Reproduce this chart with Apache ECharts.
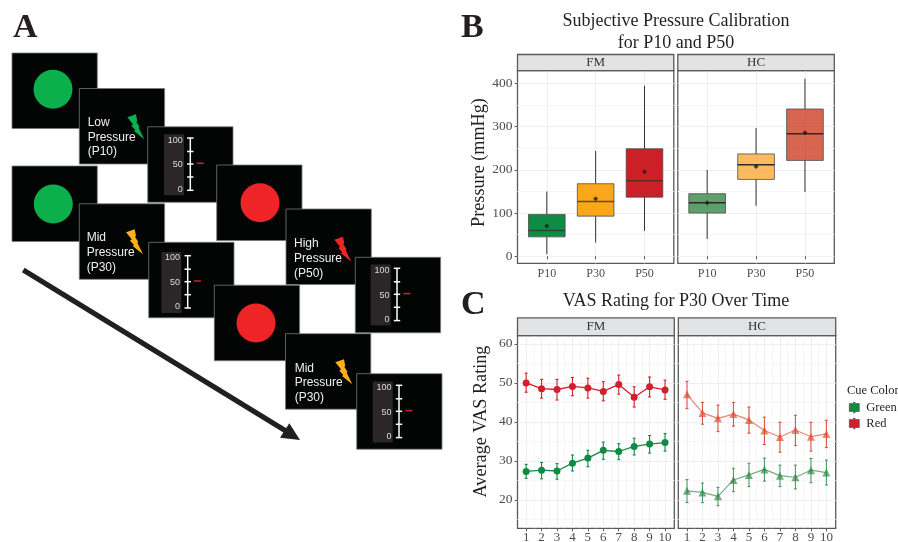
<!DOCTYPE html>
<html>
<head>
<meta charset="utf-8">
<style>html,body{margin:0;padding:0;background:#fff}#c{width:898px;height:542px}</style>
<script src="https://cdn.jsdelivr.net/npm/echarts@6/dist/echarts.min.js"></script>
</head>
<body>
<div id="c"></div>
<script>
// ---- Panel B data
const boxCategories = ['P10', 'P30', 'P50'];
const fmLow  = [5, 32, 59];
const fmQ1   = [45, 93, 137];
const fmMed  = [60, 127, 175];
const fmQ3   = [97, 168, 249];
const fmHigh = [150, 244, 395];
const fmMean = [70, 133, 196];
const hcLow  = [40, 117, 149];
const hcQ1   = [100, 178, 222];
const hcMed  = [124, 212, 284];
const hcQ3   = [145, 237, 341];
const hcHigh = [200, 297, 411];
const hcMean = [124, 208, 286];
const pressureTicks = [0, 100, 200, 300, 400];
const pressureMinor = [50, 150, 250, 350];
// ---- Panel C data
const trials = [1, 2, 3, 4, 5, 6, 7, 8, 9, 10];
const trialsMinor = [1.5, 2.5, 3.5, 4.5, 5.5, 6.5, 7.5, 8.5, 9.5];
const vasTicks = [20, 30, 40, 50, 60];
const vasMinor = [15, 25, 35, 45, 55];
const fmRed      = [50, 48.5, 48.3, 49.1, 48.7, 47.8, 49.6, 46.3, 49, 48.2];
const fmRedTop   = [52.5, 50.9, 50.9, 51.4, 51.2, 50.3, 52, 49, 51.5, 50.7];
const fmRedBot   = [47.6, 46.1, 45.6, 46.7, 46.1, 45.4, 47.1, 43.8, 46.4, 45.8];
const fmGreen    = [27.3, 27.6, 27.4, 29.4, 30.7, 32.7, 32.4, 33.7, 34.3, 34.7];
const fmGreenTop = [29.1, 29.6, 29.3, 31.5, 32.7, 34.8, 34.4, 35.8, 36.5, 37];
const fmGreenBot = [25.5, 25.4, 25.3, 27.4, 28.5, 30.4, 30.3, 31.5, 32, 32.5];
const hcRed      = [47.1, 42.3, 40.9, 42, 40.5, 37.8, 36.1, 37.9, 36.2, 36.9];
const hcRedTop   = [50.4, 45, 44.3, 45, 43.8, 41.2, 39.9, 41.7, 39.9, 40.4];
const hcRedBot   = [43.4, 39.4, 37.5, 38.9, 37.1, 34.2, 32.2, 33.9, 32.5, 33.4];
const hcGreen    = [22.3, 21.9, 20.9, 25.1, 26.4, 27.8, 26.2, 25.8, 27.6, 27];
const hcGreenTop = [25.2, 24.3, 23.2, 28.1, 29.4, 30.7, 28.9, 28.9, 30.6, 30.2];
const hcGreenBot = [19.3, 19.3, 18.5, 22.1, 23.4, 24.8, 23.4, 22.8, 24.4, 23.8];

const SERIF = '"Liberation Serif", "Times New Roman", serif';
const SANS = '"Liberation Sans", Arial, sans-serif';
const INK = '#4d4d4d';
const GRID = '#efefef', GRIDMINOR = '#f6f6f6';
const FRAME = '#5a5a5a';

// panel rectangles
const panels = [
  {l: 517.5, t: 70.7, r: 673.8, b: 263.3, st: 54.5},
  {l: 677.8, t: 70.7, r: 834.3, b: 263.3, st: 54.5},
  {l: 517.5, t: 335.7, r: 674.3, b: 528.3, st: 317.8},
  {l: 678.3, t: 335.7, r: 835.7, b: 528.3, st: 317.8}
];
const grids = panels.map(p => ({
  left: p.l, top: p.t, width: p.r - p.l, height: p.b - p.t,
  outerBoundsMode: 'none',
  show: true, backgroundColor: '#fff', borderColor: FRAME, borderWidth: 1.3
}));

function xAxisFor(i, kind) {
  const isBox = kind === 'box';
  const ticks = isBox ? [1, 2, 3] : trials;
  return [{
    type: 'value', gridIndex: i, min: isBox ? 0.4 : 0.44, max: isBox ? 3.6 : 10.6,
    axisLine: {show: false},
    axisTick: {show: true, customValues: ticks, length: 3, lineStyle: {color: '#333', width: 0.8}},
    axisLabel: {customValues: ticks, margin: isBox ? 5 : 3, color: INK, fontFamily: SERIF, fontSize: isBox ? 12 : 13,
      formatter: v => isBox ? boxCategories[v - 1] : String(v)},
    splitLine: {show: true, lineStyle: {color: GRID, width: 1.2}}
  }].concat(isBox ? [] : [{
    type: 'value', gridIndex: i, min: 0.44, max: 10.6, position: 'bottom',
    axisLine: {show: false},
    axisTick: {show: false, customValues: trialsMinor},
    axisLabel: {show: false, customValues: trialsMinor},
    splitLine: {show: true, lineStyle: {color: GRIDMINOR, width: 1}}
  }]);
}
function yAxisFor(i, kind, showLab) {
  const isBox = kind === 'box';
  const ticks = isBox ? pressureTicks : vasTicks;
  const minor = isBox ? pressureMinor : vasMinor;
  const min = isBox ? -16.2 : 12.7, max = isBox ? 429.7 : 62.1;
  return [{
    type: 'value', gridIndex: i, min, max,
    name: showLab ? (isBox ? 'Pressure (mmHg)' : 'Average VAS Rating') : '',
    nameLocation: 'middle', nameGap: isBox ? 24 : 27,
    nameTextStyle: {fontFamily: SERIF, fontSize: 18.2, color: '#231f20', padding: isBox ? [0, 0, 0, 9] : [0, 0, 0, 21]},
    axisLine: {show: false},
    axisTick: {show: showLab, customValues: ticks, length: 3, lineStyle: {color: '#333', width: 0.8}},
    axisLabel: {show: showLab, customValues: ticks, margin: 5, color: INK, fontFamily: SERIF, fontSize: 13.5},
    splitLine: {show: true, lineStyle: {color: GRID, width: 1.2}}
  }, {
    type: 'value', gridIndex: i, min, max, position: 'left',
    axisLine: {show: false},
    axisTick: {show: false, customValues: minor},
    axisLabel: {show: false, customValues: minor},
    splitLine: {show: true, lineStyle: {color: GRIDMINOR, width: 1}}
  }];
}
const xAxes = [], yAxes = [];
const xIndex = [], yIndex = [];
panels.forEach((p, i) => {
  const kind = i < 2 ? 'box' : 'line';
  xIndex.push(xAxes.length); yIndex.push(yAxes.length);
  xAxes.push(...xAxisFor(i, kind));
  yAxes.push(...yAxisFor(i, kind, i % 2 === 0));
});

const fmBoxColors = ['#0f8b44', '#fba61b', '#cb2027'];
const hcBoxColors = ['rgba(25,118,45,.7)', 'rgba(254,156,29,.7)', 'rgba(200,36,4,.7)'];

function boxSeries(idx, low, q1, med, q3, high, colors, medColor) {
  return {
    type: 'custom', xAxisIndex: xIndex[idx], yAxisIndex: yIndex[idx],
    data: boxCategories.map((c, k) => [k + 1, low[k], q1[k], med[k], q3[k], high[k]]),
    encode: {x: 0, y: [1, 2, 3, 4, 5]}, z: 3,
    renderItem(params, api) {
      const x = api.value(0), w = api.size([0.75, 0])[0];
      const pt = v => api.coord([x, v]);
      const c = pt(api.value(1));
      const cx = c[0];
      const yLow = c[1], y1 = pt(api.value(2))[1], yM = pt(api.value(3))[1], y3 = pt(api.value(4))[1], yH = pt(api.value(5))[1];
      const black = {stroke: '#1c1c1c', lineWidth: 0.9};
      return {type: 'group', children: [
        {type: 'line', shape: {x1: cx, y1: yLow, x2: cx, y2: y1}, style: black},
        {type: 'line', shape: {x1: cx, y1: y3, x2: cx, y2: yH}, style: black},
        {type: 'rect', shape: {x: cx - w / 2, y: y3, width: w, height: y1 - y3},
          style: {fill: colors[params.dataIndex], stroke: 'rgba(70,70,70,.75)', lineWidth: 1}},
        {type: 'line', shape: {x1: cx - w / 2, y1: yM, x2: cx + w / 2, y2: yM}, style: {stroke: medColor, lineWidth: 1.5}}
      ]};
    }
  };
}
function meanSeries(idx, mean) {
  return {
    type: 'scatter', xAxisIndex: xIndex[idx], yAxisIndex: yIndex[idx], z: 4,
    symbol: 'diamond', symbolSize: 5, itemStyle: {color: '#1c1c1c'}, silent: true,
    data: boxCategories.map((c, k) => [k + 1, mean[k]])
  };
}
function errSeries(idx, bot, top, color) {
  return {
    type: 'custom', xAxisIndex: xIndex[idx], yAxisIndex: yIndex[idx], z: 3,
    data: trials.map((t, k) => [t, bot[k], top[k]]),
    encode: {x: 0, y: [1, 2]},
    renderItem(params, api) {
      const a = api.coord([api.value(0), api.value(1)]), b = api.coord([api.value(0), api.value(2)]);
      const s = {stroke: color, lineWidth: 1.1};
      return {type: 'group', children: [
        {type: 'line', shape: {x1: a[0], y1: a[1], x2: b[0], y2: b[1]}, style: s},
        {type: 'line', shape: {x1: a[0] - 1.5, y1: a[1], x2: a[0] + 1.5, y2: a[1]}, style: s},
        {type: 'line', shape: {x1: b[0] - 1.5, y1: b[1], x2: b[0] + 1.5, y2: b[1]}, style: s}
      ]};
    }
  };
}
function lineSeries(idx, name, vals, color, symbol, size, width) {
  return {
    type: 'line', name, xAxisIndex: xIndex[idx], yAxisIndex: yIndex[idx], z: 4,
    symbol, symbolSize: size, showSymbol: true,
    lineStyle: {color, width}, itemStyle: {color},
    data: trials.map((t, k) => [t, vals[k]])
  };
}

const series = [
  boxSeries(0, fmLow, fmQ1, fmMed, fmQ3, fmHigh, fmBoxColors, 'rgba(50,50,50,.75)'),
  meanSeries(0, fmMean),
  boxSeries(1, hcLow, hcQ1, hcMed, hcQ3, hcHigh, hcBoxColors, '#2b2b2b'),
  meanSeries(1, hcMean),
  errSeries(2, fmGreenBot, fmGreenTop, '#0f8b44'),
  errSeries(2, fmRedBot, fmRedTop, '#d31f2c'),
  lineSeries(2, 'Green', fmGreen, '#0f8b44', 'circle', 7, 1.3),
  lineSeries(2, 'Red', fmRed, '#d31f2c', 'circle', 7, 1.3),
  errSeries(3, hcGreenBot, hcGreenTop, 'rgba(25,130,60,.75)'),
  errSeries(3, hcRedBot, hcRedTop, 'rgba(210,50,30,.8)'),
  lineSeries(3, 'Green', hcGreen, 'rgba(40,130,65,.65)', 'triangle', 8, 1.2),
  lineSeries(3, 'Red', hcRed, 'rgba(220,70,45,.65)', 'triangle', 8, 1.2)
];

// ---- Schematic, panel A
const g = [];
const SW = 85.3, SH = 75.5;
function screen(x, y) {
  g.push({type: 'rect', shape: {x, y, width: SW, height: SH}, style: {fill: '#030404', stroke: '#77787b', lineWidth: 0.8}});
}
function circle(x, y, cx, cy, color) {
  screen(x, y);
  g.push({type: 'circle', shape: {cx, cy, r: 19.5}, style: {fill: color}});
}
const boltShape = [[0,9],[26,0],[30,20],[27,22],[37,38],[34,40],[51,75],[20,50],[24,47],[12,34],[17,30]];
function cue(x, y, tx, ty, lines, bx, by, color) {
  screen(x, y);
  lines.forEach((t, k) => g.push({type: 'text', x: tx, y: ty + k * 14.6,
    style: {text: t, fill: '#f1f1f1', font: '12px ' + SANS, textAlign: 'left', textVerticalAlign: 'middle'}}));
  g.push({type: 'polygon', shape: {points: boltShape.map(p => [bx + p[0] / 3, by + p[1] / 3])}, style: {fill: color}});
}
function scale(x, y, sx, st) {
  screen(x, y);
  g.push({type: 'rect', shape: {x: sx - 26.3, y: st - 3.7, width: 20, height: 61}, style: {fill: '#2b2728'}});
  [['100', 2.3], ['50', 27], ['0', 51.3]].forEach(l => g.push({type: 'text', x: sx - 7.6, y: st + l[1],
    style: {text: l[0], fill: '#dcdcdc', font: '9px ' + SANS, textAlign: 'right', textVerticalAlign: 'middle'}}));
  const w = {stroke: '#fff', lineWidth: 1.5};
  g.push({type: 'line', shape: {x1: sx, y1: st, x2: sx, y2: st + 52.3}, style: w});
  [0, 13.5, 26, 39, 52.3].forEach(d => g.push({type: 'line', shape: {x1: sx - 3.2, y1: st + d, x2: sx + 3.2, y2: st + d}, style: w}));
  g.push({type: 'line', shape: {x1: sx + 6.4, y1: st + 25.3, x2: sx + 13.4, y2: st + 25.3}, style: {stroke: '#c4202b', lineWidth: 1.6}});
}
const GREEN = '#0bb04c', RED = '#ee2427', YEL = '#fbb117';
circle(12, 53, 53, 89.3, GREEN);
cue(79.3, 88.5, 87.7, 122.7, ['Low', 'Pressure', '(P10)'], 127.3, 114.3, GREEN);
scale(147.7, 126.8, 190.3, 138);
circle(12, 166, 53.3, 204, GREEN);
cue(79.3, 203.8, 86.7, 238, ['Mid', 'Pressure', '(P30)'], 126, 229.3, YEL);
scale(148.7, 242.3, 187.7, 255.7);
circle(216.7, 165, 260, 202.7, RED);
cue(286, 209, 294, 244, ['High', 'Pressure', '(P50)'], 334.3, 236.7, RED);
scale(355.3, 257.3, 397, 268.3);
circle(214.3, 285.2, 256, 323, RED);
cue(285.5, 333.7, 294.7, 368.3, ['Mid', 'Pressure', '(P30)'], 335.3, 359.3, YEL);
scale(356.7, 373.7, 399, 385.3);
g.push({type: 'line', shape: {x1: 23.3, y1: 270, x2: 290, y2: 433.5}, style: {stroke: '#231f20', lineWidth: 5}});
g.push({type: 'polygon', shape: {points: [[300, 440], [280, 437.7], [289.3, 423.3]]}, style: {fill: '#231f20'}});

// ---- Facet strips
['FM', 'HC', 'FM', 'HC'].forEach((t, i) => {
  const p = panels[i];
  g.push({type: 'rect', z: 10, shape: {x: p.l, y: p.st, width: p.r - p.l, height: p.t - p.st},
    style: {fill: '#e1e3e5', stroke: FRAME, lineWidth: 1.3}});
  g.push({type: 'text', z: 11, x: (p.l + p.r) / 2, y: (p.st + p.t) / 2,
    style: {text: t, fill: '#333', font: '13px ' + SERIF, textAlign: 'center', textVerticalAlign: 'middle'}});
});
// ---- Panel letters
[['A', 13, 28], ['B', 461, 28], ['C', 461, 305]].forEach(l => g.push({type: 'text', x: l[1], y: l[2],
  style: {text: l[0], fill: '#231f20', font: 'bold 34px ' + SERIF, textAlign: 'left', textVerticalAlign: 'middle'}}));
g.forEach(e => { e.silent = true; });

const option = {
  animation: false,
  backgroundColor: '#fff',
  title: [
    {text: 'Subjective Pressure Calibration\nfor P10 and P50', left: 676, top: 10, padding: 0, textAlign: 'center',
      textStyle: {fontFamily: SERIF, fontSize: 18, fontWeight: 'normal', color: '#231f20', lineHeight: 22}},
    {text: 'VAS Rating for P30 Over Time', left: 676, top: 291, padding: 0, textAlign: 'center',
      textStyle: {fontFamily: SERIF, fontSize: 18, fontWeight: 'normal', color: '#231f20', lineHeight: 20}},
    {text: 'Cue Color', left: 847, top: 384, padding: 0,
      textStyle: {fontFamily: SERIF, fontSize: 12.5, fontWeight: 'normal', color: '#231f20', lineHeight: 14}}
  ],
  legend: {
    orient: 'vertical', left: 849, top: 401, padding: 0, itemGap: 3,
    itemWidth: 10, itemHeight: 11,
    data: [
      {name: 'Green', icon: 'path://M4.4 0H5.6V1.5H10V9.5H5.6V11H4.4V9.5H0V1.5H4.4Z'},
      {name: 'Red', icon: 'path://M4.4 0H5.6V1.5H10V9.5H5.6V11H4.4V9.5H0V1.5H4.4Z'}
    ],
    itemStyle: {borderColor: '#444', borderWidth: 0.6},
    selectedMode: false,
    textStyle: {fontFamily: SERIF, fontSize: 12.5, color: '#231f20', padding: [0, 0, 0, 2]}
  },
  grid: grids,
  xAxis: xAxes,
  yAxis: yAxes,
  series,
  graphic: {elements: g}
};
const chart = echarts.init(document.getElementById('c'), null, {renderer: 'canvas'});
chart.setOption(option);
</script>
</body>
</html>
